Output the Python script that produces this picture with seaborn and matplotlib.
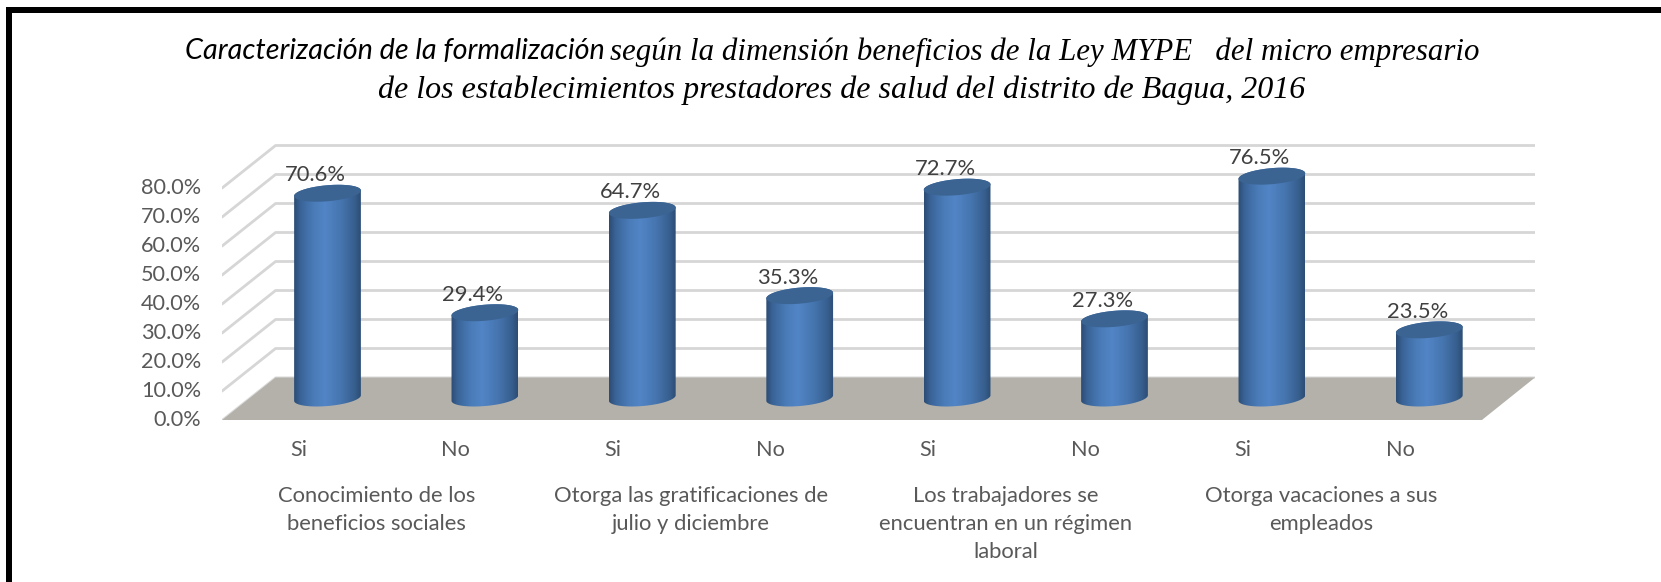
import matplotlib.pyplot as plt
import numpy as np
import pandas as pd
import seaborn as sns
from matplotlib.colors import LinearSegmentedColormap
from matplotlib.path import Path

grupos = [
    "Conocimiento de los\nbeneficios sociales",
    "Otorga las gratificaciones de\njulio y diciembre",
    "Los trabajadores se\nencuentran en un régimen\nlaboral",
    "Otorga vacaciones a sus\nempleados",
]
respuestas = ["Si", "No", "Si", "No", "Si", "No", "Si", "No"]
valores = [70.6, 29.4, 64.7, 35.3, 72.7, 27.3, 76.5, 23.5]
ticks_y = [0, 10, 20, 30, 40, 50, 60, 70, 80]

W, H = 1661, 582
PX_X = 157.4  # px por categoria
PX_Y = 2.9  # px por punto porcentual
X0, Y0 = 327.5, 398  # px de la primera barra y de su base
BACK_Y = 7.07  # pared del fondo, en unidades de y
FRONT_Y = -7.62
BACK_X = -0.33
DEPTH_X = 0.338
A, B, TILT = 33.5 / PX_X, 8.0, np.radians(5)

sns.set_theme(style="white")
plt.rcParams["font.family"] = ["Lato", "DejaVu Sans"]

fig = plt.figure(figsize=(W / 100, H / 100), dpi=100)
left_px, right_px = 222, 1535
top_px, bottom_px = Y0 - 87.5 * PX_Y, Y0 - FRONT_Y * PX_Y
ax = fig.add_axes(
    [left_px / W, 1 - bottom_px / H, (right_px - left_px) / W, (bottom_px - top_px) / H]
)

df = pd.DataFrame(
    {
        "barra": [f"{i} {r}" for i, r in enumerate(respuestas)],
        "valor": valores,
    }
)
sns.barplot(data=df, x="barra", y="valor", width=67 / PX_X, color="#4f81bd", ax=ax)

x_left = (left_px - X0) / PX_X
x_right = (right_px - X0) / PX_X
ax.set_xlim(x_left, x_right)
ax.set_ylim(FRONT_Y, 87.5)
x_back_right = x_right
x_front_right = x_right - DEPTH_X

# paredes y piso
grid_color = "#d6d6d6"
for v in ticks_y:
    if v > 0:
        ax.plot(
            [x_left, BACK_X, x_back_right],
            [v + FRONT_Y, v + BACK_Y, v + BACK_Y],
            color=grid_color,
            lw=2.0,
            solid_capstyle="round",
            zorder=1,
        )
ax.fill(
    [x_left, BACK_X, x_back_right, x_front_right],
    [FRONT_Y, BACK_Y, BACK_Y, FRONT_Y],
    color="#b4b1aa",
    lw=0,
    zorder=1.5,
)
ax.plot(
    [x_left, BACK_X, x_back_right],
    [FRONT_Y, BACK_Y, BACK_Y],
    color="#dcdcdc",
    lw=1.5,
    zorder=1.4,
)
ax.plot([x_left, x_front_right], [FRONT_Y, FRONT_Y], color="#dcdcdc", lw=1.0, zorder=1.4)

cmap = LinearSegmentedColormap.from_list(
    "cilindro",
    [
        (0.0, "#2c4c73"),
        (0.1, "#3a6498"),
        (0.3, "#4a7cb9"),
        (0.47, "#5285c6"),
        (0.7, "#4675af"),
        (0.9, "#386090"),
        (1.0, "#2c4d75"),
    ],
)
gradiente = np.linspace(0, 1, 256).reshape(1, -1)


def elipse(cx, cy, t):
    dx = A * np.cos(t) * np.cos(TILT) * PX_X - B * np.sin(t) * np.sin(TILT)
    dy = A * np.cos(t) * np.sin(TILT) * PX_X + B * np.sin(t) * np.cos(TILT)
    return cx + dx / PX_X, cy + dy / PX_Y


for i, (bar, valor) in enumerate(zip(ax.patches, valores)):
    bar.set_visible(False)
    cx = bar.get_x() + bar.get_width() / 2
    top = bar.get_height()
    xb, yb = elipse(cx, 0, np.linspace(np.pi, 2 * np.pi, 60))
    xt, yt = elipse(cx, top, np.linspace(0, np.pi, 60))
    contorno = np.column_stack([np.r_[xb, xt], np.r_[yb, yt]])
    contorno = np.vstack([contorno, contorno[0]])
    im = ax.imshow(
        gradiente,
        cmap=cmap,
        aspect="auto",
        extent=(cx - A, cx + A, -5, top + 5),
        zorder=3,
    )
    im.set_clip_path(Path(contorno), ax.transData)
    xe, ye = elipse(cx, top, np.linspace(0, 2 * np.pi, 120))
    ax.fill(xe, ye, color="#3b6493", lw=0, zorder=4)
    ax.annotate(
        f"{valor:.1f}%",
        xy=(cx, top),
        xytext=(-12, 18),
        textcoords="offset pixels",
        ha="center",
        va="center",
        fontsize=15.8,
        color="#404040",
        zorder=5,
    )

ax.set_xlim(x_left, x_right)
ax.set_ylim(FRONT_Y, 87.5)

ax.set_xticks(np.arange(len(respuestas)) - 0.185, respuestas)
ax.set_yticks(np.array(ticks_y) - 7.0, [f"{v:.1f}%" for v in ticks_y])
ax.tick_params(axis="x", length=0, pad=14, labelsize=15.6, labelcolor="#595959")
ax.tick_params(axis="y", length=0, pad=15, labelsize=15.6, labelcolor="#595959")
ax.set_xlabel("")
ax.set_ylabel("")
sns.despine(ax=ax, left=True, bottom=True)
ax.patch.set_alpha(0)

for i, grupo in enumerate(grupos):
    ax.text(
        2 * i + 0.5 - 0.19,
        FRONT_Y - 22.6,
        grupo,
        ha="center",
        va="top",
        fontsize=15.8,
        color="#595959",
        linespacing=1.52,
    )

# titulo
fig.text(185 / W, 1 - 51 / H, "Caracterización de la formalización", family="Lato",
         style="italic", fontsize=20.7, color="black", ha="left", va="center")
fig.text(610 / W, 1 - 52 / H,
         "según la dimensión beneficios de la Ley MYPE   del micro empresario",
         family="Liberation Serif", style="italic", fontsize=22.2, color="black",
         ha="left", va="center")
fig.text(842 / W, 1 - 90 / H,
         "de los establecimientos prestadores de salud del distrito de Bagua, 2016",
         family="Liberation Serif", style="italic", fontsize=23, color="black",
         ha="center", va="center")

# marco
fig.add_artist(plt.Rectangle((6 / W, 0), 6 / W, 1 - 7 / H, transform=fig.transFigure,
                             color="black", lw=0))
fig.add_artist(plt.Rectangle((6 / W, 1 - 12.5 / H), 1 - 6 / W, 5.5 / H,
                             transform=fig.transFigure, color="black", lw=0))

fig.savefig("out.png", dpi=100)
